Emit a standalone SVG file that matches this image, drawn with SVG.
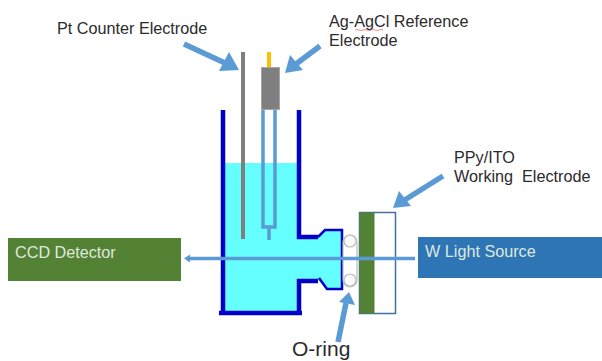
<svg xmlns="http://www.w3.org/2000/svg" width="602" height="361" viewBox="0 0 602 361">
<style>
text{font-family:"Liberation Sans",Arial,sans-serif;font-size:16.2px;fill:#2b2b2b;white-space:pre}
.w{fill:#dfe8dc}
.wall{fill:none;stroke:#0000c8;stroke-width:4.5}
.blue{fill:none;stroke:#5b9bd5;stroke-width:3.5}
.fat{fill:none;stroke:#5b9bd5;stroke-width:5.5}
.head{fill:#5b9bd5}
</style>
<rect width="602" height="361" fill="#fff"/>
<g id="cell">
<path d="M223 163H299V237H318L325 230H342V289H327L319 281H299V313H223Z" fill="#66ffff"/>
<path d="M223 110V313M219 313H302M299 110V237H318M299 313V281H318" class="wall"/>
<path d="M318 237L325 230H342V289H327L319 278" fill="none" stroke="#0000c8" stroke-width="2.5"/>
</g>
<g id="o-ring" fill="#fff" stroke="#bcbcbc" stroke-width="1.2">
<rect x="343" y="235" width="14" height="52" rx="7"/>
<circle cx="350" cy="241" r="6" fill="#fafafa"/>
<circle cx="350" cy="280" r="6" fill="#fafafa"/>
</g>
<g id="pt-electrode"><rect x="241" y="52" width="4" height="187" fill="#7f7f7f"/></g>
<g id="reference-electrode">
<rect x="267" y="52" width="4" height="16" fill="#ffc000"/>
<path d="M263 109V227H275V109M269 227V240" class="blue"/>
<rect x="261.500" y="67.500" width="18" height="42" fill="#7f7f7f" stroke="#a6a6a6"/>
</g>
<g id="working-electrode">
<rect x="359.500" y="212.500" width="36" height="101" fill="#fff" stroke="#41719c" stroke-width="1.500"/>
<rect x="359.500" y="212.500" width="15" height="101" fill="#548235"/>
</g>
<g id="ccd-detector">
<rect x="8" y="238" width="173" height="43" fill="#548235"/>
<text class="w" x="15" y="258">CCD Detector</text>
</g>
<g id="light-source">
<rect x="418" y="237" width="184" height="41" fill="#2e75b6"/>
<text class="w" x="425" y="257">W Light Source</text>
</g>
<g id="labels">
<text x="57" y="34">Pt Counter Electrode</text>
<text x="329" y="27">Ag-AgCl Reference</text>
<text x="329" y="46">Electrode</text>
<path d="M355 30q2-1 4 0t4 0t4 0t4 0t4 0t4 0t4 0" fill="none" stroke="#e06060" stroke-width=".7"/>
<text x="454" y="163">PPy/ITO</text>
<text x="454" y="182">Working  Electrode</text>
<text x="292" y="356" style="font-size:21px">O-ring</text>
</g>
<g id="connectors">
<path d="M187 258.500H415" fill="none" stroke="#5b9bd5" stroke-width="3.500"/>
<path d="M184 258.500L190 254.500V262.500Z" class="head"/>
<path d="M184 44L225 63" class="fat"/><path d="M239 70L219 71L229 52Z" class="head"/>
<path d="M320 46L296 64" class="fat"/><path d="M285 73L290 55L303 70Z" class="head"/>
<path d="M443 176L403 201" class="fat"/><path d="M393 208L399 191L411 206Z" class="head"/>
<path d="M338 342L346 303" class="fat"/><path d="M349 292L355 305L339 302Z" class="head"/>
</g>
</svg>
